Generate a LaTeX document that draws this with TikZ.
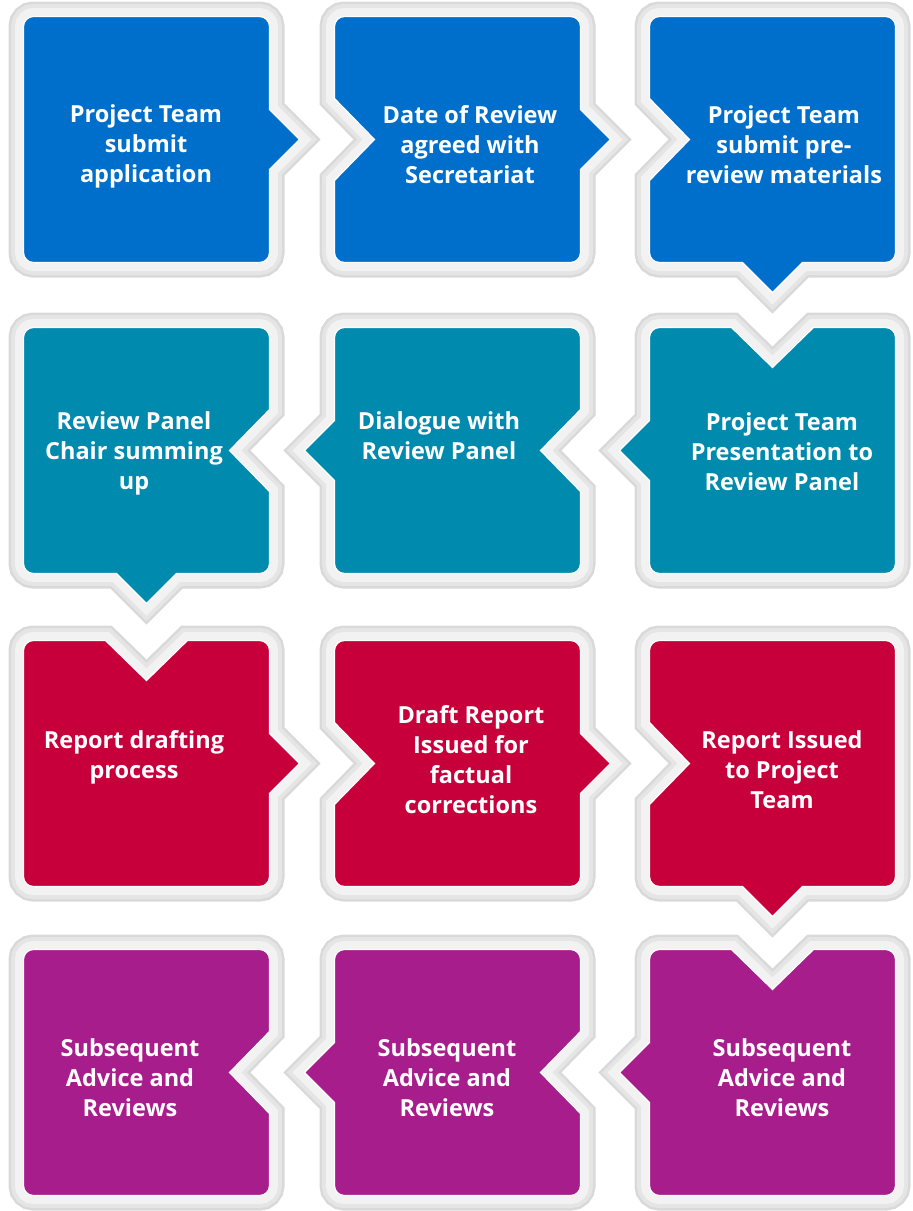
\documentclass[tikz,border=0pt]{standalone}
\usepackage{fontspec}
\setmainfont{Open Sans}
\usepackage{tikz}

\definecolor{stepblue}{HTML}{006FCC}
\definecolor{stepteal}{HTML}{008AAD}
\definecolor{stepred}{HTML}{C7003C}
\definecolor{steppurple}{HTML}{A71D8B}

% sides of a tile, walked clockwise from 20 past its top left corner
\newcommand{\topplain}{-- ++(226,0)}
\newcommand{\topin}{-- ++(42,0) [sharp corners] -- ++(20,0) -- ++(41,40) -- ++(41,-40) -- ++(20,0) [rounded corners=10] -- ++(62,0)}
\newcommand{\rightplain}{-- ++(0,246)}
\newcommand{\rightout}{-- ++(0,73) [sharp corners] -- ++(0,20) -- ++(30,30) -- ++(-30,30) -- ++(0,20) [rounded corners=10] -- ++(0,73)}
\newcommand{\rightin}{-- ++(0,62) [sharp corners] -- ++(0,20) -- ++(-40,41) -- ++(40,41) -- ++(0,20) [rounded corners=10] -- ++(0,62)}
\newcommand{\bottomplain}{-- ++(-246,0)}
\newcommand{\bottomout}{-- ++(-73,0) [sharp corners] -- ++(-20,0) -- ++(-30,30) -- ++(-30,-30) -- ++(-20,0) [rounded corners=10] -- ++(-73,0)}
\newcommand{\leftplain}{-- ++(0,-246) -- cycle}
\newcommand{\leftout}{-- ++(0,-73) [sharp corners] -- ++(0,-20) -- ++(-30,-30) -- ++(30,-30) -- ++(0,-20) [rounded corners=10] -- ++(0,-73) -- cycle}
\newcommand{\leftin}{-- ++(0,-62) [sharp corners] -- ++(0,-20) -- ++(40,-41) -- ++(-40,-41) -- ++(0,-20) [rounded corners=10] -- ++(0,-62) -- cycle}

\tikzset{
  tile/.style={rounded corners=10, line join=miter,
    preaction={draw=black!15, line width=30},
    preaction={draw=black!10, line width=25},
    preaction={draw=black!5, line width=17},
    draw=white, line width=1.2},
  tiletext/.style={text=white, align=center,
    font=\fontsize{23.5}{30}\selectfont\bfseries}
}

\begin{document}
\begin{tikzpicture}[x=1pt, y=-1pt]
\useasboundingbox (0,0) rectangle (913,1211);

\coordinate (c11) at (146.5,139.5);
\coordinate (c12) at (457.5,139.5);
\coordinate (c13) at (772.5,139.5);
\coordinate (c21) at (146.5,450.5);
\coordinate (c22) at (457.5,450.5);
\coordinate (c23) at (772.5,450.5);
\coordinate (c31) at (146.5,763.5);
\coordinate (c32) at (457.5,763.5);
\coordinate (c33) at (772.5,763.5);
\coordinate (c41) at (146.5,1072.5);
\coordinate (c42) at (457.5,1072.5);
\coordinate (c43) at (772.5,1072.5);

% row 1
\path[tile, fill=stepblue, shift={(c11)}] (-103,-123) [rounded corners=10]
  \topplain \rightout \bottomplain \leftplain;
\path[tile, fill=stepblue, shift={(c12)}] (-103,-123) [rounded corners=10]
  \topplain \rightout \bottomplain \leftin;
\path[tile, fill=stepblue, shift={(c13)}] (-103,-123) [rounded corners=10]
  \topplain \rightplain \bottomout \leftin;

% row 2
\path[tile, fill=stepteal, shift={(c21)}] (-103,-123) [rounded corners=10]
  \topplain \rightin \bottomout \leftplain;
\path[tile, fill=stepteal, shift={(c22)}] (-103,-123) [rounded corners=10]
  \topplain \rightin \bottomplain \leftout;
\path[tile, fill=stepteal, shift={(c23)}] (-103,-123) [rounded corners=10]
  \topin \rightplain \bottomplain \leftout;

% row 3
\path[tile, fill=stepred, shift={(c31)}] (-103,-123) [rounded corners=10]
  \topin \rightout \bottomplain \leftplain;
\path[tile, fill=stepred, shift={(c32)}] (-103,-123) [rounded corners=10]
  \topplain \rightout \bottomplain \leftin;
\path[tile, fill=stepred, shift={(c33)}] (-103,-123) [rounded corners=10]
  \topplain \rightplain \bottomout \leftin;

% row 4
\path[tile, fill=steppurple, shift={(c41)}] (-103,-123) [rounded corners=10]
  \topplain \rightin \bottomplain \leftplain;
\path[tile, fill=steppurple, shift={(c42)}] (-103,-123) [rounded corners=10]
  \topplain \rightin \bottomplain \leftout;
\path[tile, fill=steppurple, shift={(c43)}] (-103,-123) [rounded corners=10]
  \topin \rightplain \bottomplain \leftout;

% labels
\node[tiletext] (t11) at (146,146) {Project Team\\submit\\application};
\node[tiletext] (t12) at (470,145) {Date of Review\\agreed with\\Secretariat};
\node[tiletext] (t13) at (784,145) {Project Team\\submit pre-\\review materials};
\node[tiletext] (t21) at (134,453) {Review Panel\\Chair summing\\up};
\node[tiletext] (t22) at (439,436) {Dialogue with\\Review Panel};
\node[tiletext] (t23) at (782,452) {Project Team\\Presentation to\\Review Panel};
\node[tiletext] (t31) at (134,757) {Report drafting\\process};
\node[tiletext] (t32) at (471,760) {Draft Report\\Issued for\\factual\\corrections};
\node[tiletext] (t33) at (782,770) {Report Issued\\to Project\\Team};
\node[tiletext] (t41) at (130,1078) {Subsequent\\Advice and\\Reviews};
\node[tiletext] (t42) at (447,1078) {Subsequent\\Advice and\\Reviews};
\node[tiletext] (t43) at (782,1078) {Subsequent\\Advice and\\Reviews};
\end{tikzpicture}
\end{document}
